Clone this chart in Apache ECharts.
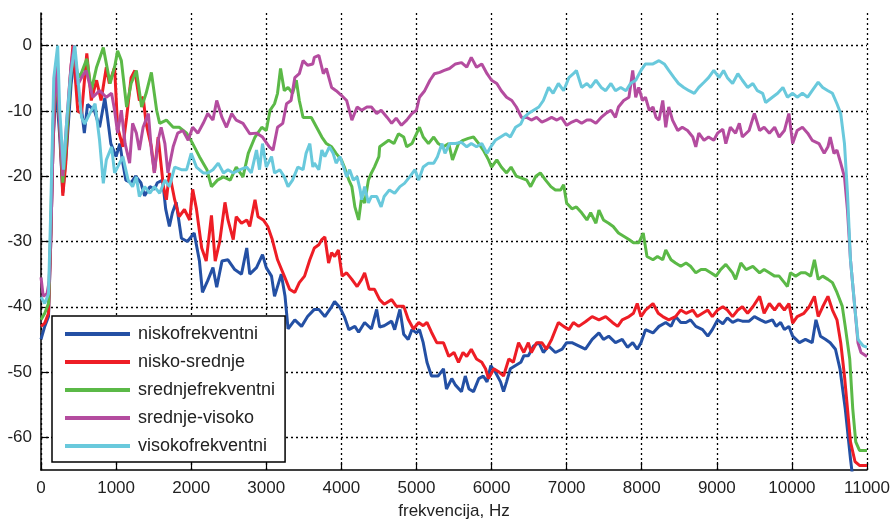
<!DOCTYPE html>
<html><head><meta charset="utf-8">
<script src="https://cdn.jsdelivr.net/npm/echarts@6/dist/echarts.min.js"></script>
<style>html,body{margin:0;padding:0;background:#fff}#c{width:894px;height:525px}</style>
</head><body><div id="c"></div>
<script>
const seriesNames = ['niskofrekventni','nisko-srednje','srednjefrekventni','srednje-visoko','visokofrekventni'];
const xTicks = [0,1000,2000,3000,4000,5000,6000,7000,8000,9000,10000,11000];
const yTicks = [-60,-50,-40,-30,-20,-10,0];

const niskofrekventni = [[0,-45],[50,-43],[100,-41.5],[130,-30],[160,-15],[200,-6],[250,-14],[290,-22.5],[340,-16],[400,-6],[440,-2],[490,-8],[530,-8.8],[577,-13.4],[620,-9],[710,-9.9],[780,-12.5],[850,-8],[890,-11.4],[930,-15],[1000,-17],[1050,-15],[1090,-18],[1130,-20.6],[1200,-21],[1260,-20],[1330,-21],[1380,-23],[1450,-21.6],[1510,-22],[1550,-21],[1620,-20.6],[1660,-25],[1710,-27.7],[1750,-25.6],[1800,-24],[1870,-29.5],[1950,-30],[2040,-28.7],[2110,-33],[2150,-37.8],[2220,-36],[2290,-34],[2340,-37],[2410,-33],[2490,-32.8],[2580,-34.3],[2670,-35],[2740,-31],[2780,-35],[2870,-34],[2950,-32],[3000,-34],[3070,-35.3],[3110,-38.4],[3200,-35],[3250,-38.4],[3290,-43.4],[3380,-42],[3470,-43],[3550,-41.5],[3640,-40.4],[3700,-40.4],[3780,-41.5],[3870,-40],[3910,-39.2],[3980,-40.1],[4040,-41.5],[4100,-43.5],[4180,-43],[4230,-43.9],[4310,-42.4],[4400,-43.4],[4470,-40.4],[4510,-43.1],[4570,-42.9],[4670,-42.2],[4710,-43.5],[4780,-40.4],[4830,-44.2],[4890,-45],[4940,-43.5],[5000,-44],[5040,-43.5],[5090,-45.5],[5140,-48.5],[5200,-50.6],[5290,-50.6],[5360,-49.5],[5400,-52.6],[5470,-51],[5520,-52],[5600,-53],[5650,-50.6],[5700,-52.6],[5760,-53],[5830,-51],[5890,-50.6],[5940,-51.5],[5990,-49],[6050,-50],[6120,-51.5],[6160,-53],[6200,-51.5],[6250,-49.5],[6320,-49],[6390,-48.5],[6430,-47.5],[6490,-47.5],[6560,-46],[6630,-45.5],[6690,-47],[6760,-46],[6850,-47],[6940,-46.5],[7000,-45.5],[7070,-45.5],[7160,-46],[7250,-46.5],[7340,-45],[7430,-44],[7490,-45],[7560,-44.5],[7650,-45.5],[7740,-45],[7810,-46.2],[7880,-45.5],[7940,-46.5],[7990,-45.5],[8050,-43.5],[8150,-44],[8230,-43],[8320,-42.4],[8390,-43],[8450,-41.5],[8520,-42.4],[8590,-42.4],[8650,-42],[8720,-43],[8810,-43.5],[8880,-44.5],[8940,-43.5],[9010,-42],[9080,-42.6],[9140,-41.7],[9210,-42.4],[9280,-42],[9340,-42.2],[9430,-42.2],[9500,-41.5],[9580,-42],[9650,-42.4],[9740,-42],[9790,-43],[9850,-42.4],[9900,-43.5],[9960,-43],[10010,-44.5],[10100,-45.5],[10180,-45],[10270,-45.5],[10320,-42],[10380,-44.5],[10450,-45],[10510,-45.5],[10580,-46.5],[10640,-49.5],[10710,-55.6],[10780,-63.3],[10850,-70],[11000,-70]];

const niskoSrednje = [[0,-43],[50,-42.5],[100,-41],[130,-30],[160,-15],[200,-4],[240,-10],[290,-23],[330,-18],[380,-6],[425,0],[490,-10],[540,-10.4],[610,-1.2],[670,-8.4],[740,-5.3],[800,-8.4],[870,-3.3],[910,-5.8],[980,-3.3],[1020,-12.5],[1090,-15.5],[1140,-11],[1200,-4.9],[1250,-3.8],[1310,-8.4],[1360,-7.9],[1400,-11.9],[1470,-15.5],[1510,-19.5],[1560,-14],[1630,-21.6],[1670,-23.6],[1710,-19.5],[1780,-23.6],[1840,-26.2],[1910,-25.1],[1980,-26.7],[2020,-22],[2070,-25],[2140,-31],[2200,-33],[2270,-26],[2320,-33],[2380,-30],[2450,-24],[2490,-26.7],[2560,-29.7],[2600,-26.2],[2670,-27.2],[2740,-26.7],[2780,-27.7],[2850,-23.6],[2890,-26.2],[2960,-26.7],[3020,-27.7],[3080,-29.7],[3150,-32.8],[3240,-35.3],[3310,-37.3],[3380,-37.8],[3440,-36.3],[3510,-35.3],[3580,-32.8],[3640,-31],[3700,-30.5],[3740,-29.7],[3780,-29.3],[3830,-33.3],[3870,-31.7],[3910,-32.3],[3960,-31.3],[4010,-35.3],[4070,-34.8],[4140,-35.8],[4210,-36.9],[4270,-35.8],[4310,-34.8],[4370,-37.3],[4440,-37.3],[4510,-38.9],[4570,-39.6],[4670,-38.9],[4730,-39.9],[4830,-39.9],[4890,-41.9],[4960,-43.4],[5030,-42.4],[5090,-42.9],[5140,-42.4],[5200,-43.9],[5270,-45.5],[5360,-45.5],[5430,-47.6],[5500,-47],[5560,-48.5],[5620,-47],[5670,-47.6],[5730,-46.5],[5800,-48],[5870,-48.5],[5920,-49.5],[5960,-51],[6030,-49.5],[6100,-50],[6160,-50.6],[6230,-48],[6290,-48.5],[6360,-45.5],[6430,-47],[6490,-45.5],[6530,-47],[6600,-45.5],[6670,-45.5],[6730,-46.5],[6800,-45],[6890,-42.4],[6960,-43],[7030,-43.5],[7090,-42.4],[7160,-43],[7250,-42.3],[7340,-41.5],[7430,-42],[7520,-41.5],[7610,-42.4],[7680,-43],[7740,-42],[7830,-41.5],[7890,-41],[7940,-39.5],[7990,-41.5],[8050,-40.5],[8150,-39.5],[8220,-41],[8280,-41.5],[8360,-42],[8450,-41.5],[8520,-40.5],[8590,-41],[8680,-40.5],[8740,-41.5],[8810,-41],[8880,-40.5],[8940,-41.5],[9010,-40.5],[9080,-40],[9140,-40.5],[9210,-41.5],[9280,-40.5],[9340,-40],[9410,-41],[9480,-40],[9570,-38.4],[9630,-41],[9700,-39.5],[9770,-40.5],[9830,-39.5],[9900,-40.5],[9960,-39.5],[10010,-42.5],[10070,-41.5],[10160,-41],[10230,-40],[10300,-38.4],[10350,-41.5],[10410,-40],[10480,-38.4],[10540,-40.5],[10600,-42],[10650,-45.5],[10700,-50.6],[10740,-55.6],[10780,-60.7],[10840,-63.7],[10900,-64.3],[11000,-64.3]];

const srednjefrekventni = [[0,-42],[50,-41],[100,-39.5],[130,-28],[160,-12],[200,-4],[250,-12],[290,-21],[340,-14],[400,-4],[440,-1],[480,-4],[515,-4.9],[610,-2],[670,-6.9],[740,-3.3],[830,-0.3],[920,-5.8],[980,-3.3],[1020,-0.8],[1070,-2.3],[1140,-9.4],[1200,-5.8],[1270,-3.8],[1340,-9.4],[1400,-7.3],[1470,-4.1],[1540,-9.9],[1580,-11.9],[1670,-11.4],[1760,-12.5],[1840,-12.5],[1940,-13.4],[2020,-15],[2110,-17],[2210,-19],[2270,-21.6],[2350,-20.6],[2430,-20.1],[2520,-20.6],[2600,-18.6],[2690,-20.1],[2760,-16.5],[2850,-14],[2940,-12.5],[3000,-13],[3050,-9.9],[3110,-8.9],[3150,-7.3],[3190,-3.5],[3240,-6.9],[3290,-6.4],[3350,-7.3],[3400,-5.3],[3440,-8.4],[3490,-11],[3550,-11],[3600,-11],[3670,-12.5],[3740,-14],[3800,-15],[3870,-15.5],[3930,-16.5],[4000,-17.5],[4040,-18.6],[4100,-20.6],[4140,-21.6],[4180,-24.7],[4230,-26.7],[4270,-23.2],[4310,-24.1],[4360,-20.6],[4400,-19.5],[4440,-18.6],[4500,-17],[4510,-15.5],[4570,-15],[4630,-14.5],[4700,-15],[4760,-13.5],[4830,-14],[4870,-15.5],[4940,-15],[5000,-13.5],[5040,-12.5],[5090,-14],[5160,-15],[5230,-14],[5290,-15],[5360,-15.5],[5430,-15],[5480,-17.5],[5560,-15],[5620,-14.5],[5690,-14.2],[5760,-14],[5830,-15],[5890,-16],[5960,-17.5],[6000,-18.6],[6070,-17.5],[6130,-18.6],[6200,-19.5],[6260,-18.6],[6330,-20],[6400,-20.3],[6470,-20.6],[6520,-21.6],[6590,-20],[6650,-19.5],[6720,-20.6],[6790,-21.6],[6850,-22.1],[6920,-22.1],[6960,-21.3],[7000,-24.1],[7070,-25],[7130,-24.7],[7200,-25.6],[7270,-26.7],[7320,-25.6],[7390,-27.2],[7430,-25.2],[7490,-26.7],[7560,-27.2],[7620,-27.7],[7690,-28.7],[7760,-29.2],[7830,-29.7],[7890,-30.2],[7960,-30.2],[8020,-28.7],[8070,-32.3],[8150,-32.8],[8210,-32.3],[8280,-32.8],[8320,-31.3],[8390,-32.8],[8450,-33.3],[8520,-33.8],[8590,-33.3],[8650,-33.8],[8720,-34.8],[8790,-34.3],[8850,-34.3],[8920,-34.8],[8990,-35.3],[9050,-34.3],[9120,-33.5],[9210,-34.8],[9250,-35.8],[9320,-33.3],[9390,-34.3],[9480,-33.8],[9570,-34.8],[9630,-34.3],[9700,-34.8],[9770,-35.3],[9830,-35.3],[9900,-36.3],[9940,-36.9],[9980,-34.8],[10050,-35.3],[10120,-34.8],[10180,-34.8],[10250,-35.3],[10300,-32.8],[10350,-35.8],[10410,-35.3],[10480,-35.8],[10540,-36.3],[10600,-37.8],[10670,-39.9],[10710,-43],[10770,-48],[10810,-55.6],[10850,-60.7],[10900,-62],[11000,-62]];

const srednjeVisoko = [[0,-35.5],[30,-38.4],[80,-38],[110,-36],[140,-25],[170,-10],[205,-3],[250,-12],[290,-20],[340,-12],[400,-3],[440,0],[490,-6],[540,-4.9],[600,-3.8],[690,-7.9],[780,-6.9],[870,-7.9],[940,-7.3],[980,-9.9],[1020,-13.4],[1070,-9.9],[1120,-15],[1180,-18],[1220,-11.9],[1270,-13.4],[1310,-16],[1360,-12.5],[1430,-10.4],[1470,-16],[1510,-19.5],[1560,-14.5],[1600,-12.5],[1650,-15],[1690,-19.5],[1760,-15.5],[1820,-13.4],[1890,-13],[1960,-14.5],[2020,-12.5],[2090,-13.4],[2160,-11.9],[2220,-10.4],[2290,-11.4],[2340,-8.4],[2410,-11],[2470,-12.5],[2540,-10.4],[2600,-11.4],[2690,-11.9],[2780,-13.5],[2870,-13.4],[2950,-14],[3040,-15.5],[3090,-16],[3150,-12.5],[3220,-11.9],[3270,-8.9],[3330,-8.4],[3380,-4.9],[3440,-4.3],[3490,-2.3],[3550,-3],[3620,-2.8],[3640,-1.8],[3700,-1.5],[3760,-4.3],[3800,-3.5],[3870,-6.4],[3930,-6.9],[4000,-7.6],[4070,-8.4],[4140,-11.4],[4210,-9.4],[4270,-9.9],[4340,-9.4],[4400,-9.4],[4470,-10.4],[4530,-9.9],[4610,-11],[4670,-11.9],[4730,-11.1],[4800,-12.2],[4870,-11.4],[4940,-10.4],[5000,-9.9],[5040,-7.9],[5110,-6.9],[5180,-5.3],[5240,-4.3],[5310,-4.1],[5370,-3.8],[5440,-3.5],[5520,-2.8],[5600,-2.6],[5670,-3.3],[5730,-1.8],[5800,-3.3],[5870,-2.8],[5940,-4.3],[6000,-5.3],[6070,-5.8],[6130,-6.9],[6200,-7.9],[6270,-8.4],[6330,-9.4],[6400,-11],[6470,-11],[6530,-11.4],[6600,-11],[6670,-11.7],[6730,-11.4],[6800,-11],[6870,-11.4],[6930,-11],[7000,-12.2],[7070,-11.7],[7130,-11.4],[7200,-11.9],[7270,-11.4],[7320,-11.4],[7390,-11.9],[7460,-11],[7520,-10.4],[7590,-9.9],[7650,-11],[7690,-9.4],[7760,-8.4],[7830,-7.9],[7880,-3.8],[7920,-7.9],[7960,-6.4],[8010,-8.4],[8050,-7.9],[8100,-9.9],[8150,-9.4],[8190,-11],[8230,-11.4],[8280,-8.4],[8320,-12.5],[8360,-9.4],[8410,-11.4],[8480,-13],[8540,-12.5],[8610,-13],[8680,-14],[8720,-15.5],[8760,-13.4],[8830,-14.5],[8890,-14],[8960,-14.5],[9010,-13.4],[9080,-12.8],[9120,-15],[9180,-12.5],[9250,-13.4],[9300,-11.9],[9340,-14],[9430,-13],[9500,-10.4],[9570,-13],[9630,-12.5],[9700,-13.4],[9770,-12.5],[9830,-14],[9900,-13],[9960,-10.4],[10010,-15],[10070,-13],[10140,-12.5],[10210,-13.4],[10270,-14.5],[10360,-15],[10430,-16.5],[10480,-15.5],[10510,-14],[10560,-16.5],[10600,-16],[10650,-18],[10700,-20.1],[10740,-25.2],[10780,-32.8],[10840,-40.4],[10880,-45.5],[10920,-47],[11000,-47.6]];

const visokofrekventni = [[0,-38.5],[50,-39.5],[100,-38],[130,-25],[170,-5],[222,0],[250,-10],[300,-19],[340,-12],[390,-5],[450,0],[500,-6],[540,-11],[580,-12],[650,-10.4],[720,-8.9],[780,-14.5],[830,-21.1],[870,-17.5],[940,-15.5],[980,-19.5],[1020,-18.6],[1090,-17],[1160,-20.6],[1220,-21.6],[1270,-20.1],[1310,-23.1],[1380,-21.6],[1450,-22.6],[1510,-21.6],[1580,-22.6],[1650,-20.6],[1710,-21.6],[1780,-18.6],[1870,-19],[1940,-19],[2000,-16.5],[2070,-18.6],[2160,-19.5],[2220,-19.5],[2290,-19],[2360,-18],[2430,-19.5],[2490,-19],[2560,-19.5],[2650,-19],[2740,-18.6],[2800,-19.5],[2870,-16],[2910,-19],[2950,-15],[3000,-18.6],[3070,-17],[3110,-19.5],[3180,-19],[3240,-20.1],[3290,-21.6],[3350,-20.6],[3420,-18.6],[3490,-19],[3530,-16.5],[3580,-15],[3620,-18.6],[3640,-18],[3700,-19],[3740,-16],[3780,-17],[3840,-15.5],[3890,-16.5],[3930,-18],[3980,-17],[4030,-18.6],[4070,-20.1],[4110,-19],[4160,-20.6],[4210,-20.1],[4250,-22.1],[4270,-23.6],[4310,-21.6],[4360,-24.1],[4400,-23.1],[4470,-23.1],[4530,-24.7],[4570,-23.1],[4640,-22.1],[4710,-22.6],[4780,-21.6],[4840,-21.1],[4910,-20.1],[4980,-19],[5030,-20.6],[5090,-18.6],[5160,-18],[5230,-18],[5280,-17],[5340,-15],[5380,-16.5],[5440,-15],[5520,-15],[5600,-14.8],[5670,-15.5],[5730,-15],[5800,-15.5],[5870,-15],[5940,-16.5],[5990,-15.5],[6050,-14.5],[6120,-14],[6190,-13.5],[6250,-14],[6320,-12.5],[6390,-12],[6430,-11],[6490,-10.4],[6560,-9.9],[6630,-9.4],[6690,-8.4],[6760,-6.4],[6820,-7.3],[6890,-5.8],[6960,-6.9],[7030,-4.9],[7090,-4.3],[7130,-3.8],[7200,-6.4],[7270,-5.8],[7320,-6.4],[7390,-5.3],[7460,-6.4],[7520,-6.9],[7590,-5.8],[7650,-6.9],[7720,-6.4],[7790,-6.9],[7850,-5.8],[7920,-5.3],[7990,-3.8],[8050,-2.8],[8150,-2.8],[8230,-2.3],[8300,-2.8],[8360,-3.8],[8430,-4.9],[8490,-5.8],[8560,-6.4],[8630,-6.9],[8700,-7.3],[8760,-6.4],[8830,-5.6],[8890,-4.9],[8960,-3.8],[9030,-4.9],[9090,-3.8],[9140,-4.9],[9210,-5.8],[9280,-4.3],[9340,-5.3],[9410,-6.4],[9480,-5.8],[9540,-6.9],[9610,-7.3],[9650,-8.7],[9740,-7.9],[9810,-7.3],[9880,-6.4],[9940,-7.9],[10010,-7.3],[10070,-7.9],[10140,-7.3],[10210,-7.9],[10270,-6.9],[10350,-5.6],[10410,-6.4],[10480,-6.9],[10540,-7.3],[10600,-8.9],[10650,-10.4],[10700,-15],[10740,-22.6],[10780,-32.8],[10840,-40.4],[10880,-45],[10950,-46],[11000,-46.2]];

const seriesData = [niskofrekventni, niskoSrednje, srednjefrekventni, srednjeVisoko, visokofrekventni];
const colors = ['#2450a4', '#ee1d25', '#5bb947', '#b44c9f', '#69c9dc'];
const FONT = '"Liberation Sans", Arial, sans-serif';
const LEGEND_ICON = 'path://M0,0L65,0L65,4L0,4Z';

const chart = echarts.init(document.getElementById('c'), null, {renderer: 'canvas'});
chart.setOption({
  animation: false,
  backgroundColor: '#ffffff',
  grid: {left: 41, right: 27, top: 13, bottom: 53.5, containLabel: false},
  xAxis: {
    type: 'value', min: 0, max: 11000, interval: 1000,
    name: 'frekvencija, Hz', nameLocation: 'middle', nameGap: 33,
    nameTextStyle: {fontFamily: FONT, fontSize: 17, color: '#222'},
    axisLine: {onZero: false, lineStyle: {color: '#000', width: 1.5}},
    axisTick: {show: true, inside: true, length: 8, lineStyle: {color: '#000', width: 1.2}},
    axisLabel: {fontFamily: FONT, fontSize: 17, color: '#222', margin: 10,
      formatter: v => String(v)},
    splitLine: {show: true, lineStyle: {color: '#000', width: 1.3, type: [2, 3]}}
  },
  yAxis: {
    type: 'value', min: -65, max: 5, splitNumber: 7,
    axisLine: {show: true, onZero: false, lineStyle: {color: '#000', width: 1.5}},
    axisTick: {show: true, inside: true, length: 8, customValues: yTicks, lineStyle: {color: '#000', width: 1.2}},
    axisLabel: {fontFamily: FONT, fontSize: 17, color: '#222', margin: 9, customValues: yTicks,
      formatter: v => String(v)},
    splitLine: {show: true, lineStyle: {color: '#000', width: 1.3, type: [2, 3]}}
  },
  legend: {
    show: true, orient: 'vertical', left: 52, top: 316,
    padding: [9, 10, 7, 13],
    itemWidth: 65, itemHeight: 14, itemGap: 10,
    backgroundColor: '#fff', borderColor: '#000', borderWidth: 1.5, borderRadius: 0,
    textStyle: {fontFamily: FONT, fontSize: 18, color: '#222', padding: [0, 0, 0, 3]},
    data: seriesNames.map(n => ({name: n, icon: LEGEND_ICON}))
  },
  series: seriesData.map((d, i) => ({
    name: seriesNames[i], type: 'line', data: d,
    showSymbol: false, symbol: 'none', clip: true,
    lineStyle: {color: colors[i], width: 3},
    itemStyle: {color: colors[i]},
    z: 2 + i
  }))
});
</script>
</body></html>
